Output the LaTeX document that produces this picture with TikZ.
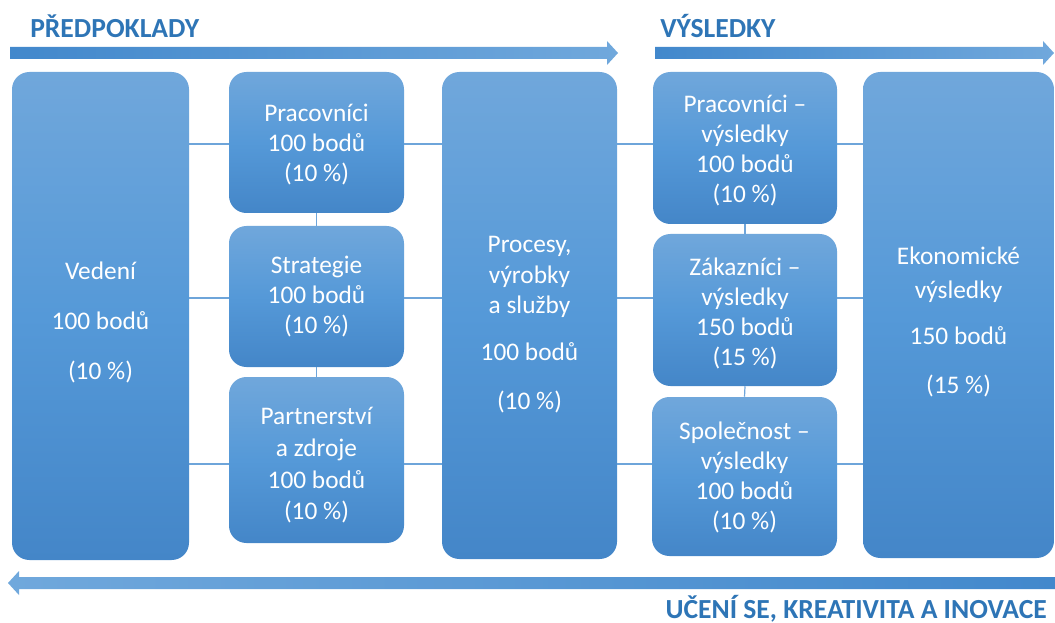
\documentclass[tikz,border=0pt]{standalone}
\usepackage{fontspec}
\setmainfont{Carlito}
\newfontfamily\boxfnt{Carlito}
\newfontfamily\titlefnt{Carlito Bold}
\usetikzlibrary{fit,calc}
\definecolor{boxtop}{RGB}{112,167,219}
\definecolor{boxmid}{RGB}{85,153,216}
\definecolor{boxbot}{RGB}{68,134,200}
\definecolor{linec}{RGB}{110,165,218}
\definecolor{titlec}{RGB}{46,117,182}
\definecolor{arrdark}{RGB}{66,136,204}
\definecolor{arrlight}{RGB}{112,168,220}
\tikzset{
  box/.style={rounded corners=13pt, top color=boxtop, bottom color=boxbot, middle color=boxmid,
    draw=none, inner sep=0pt},
  btext/.style={text=white, align=center, inner sep=0pt,
    font=\boxfnt\fontsize{19}{22.5}\selectfont},
  conn/.style={draw=linec, line width=0.9pt},
  ttl/.style={text=titlec, font=\titlefnt\fontsize{20.7}{24}\selectfont, inner sep=0pt},
}
\begin{document}
\begin{tikzpicture}[x=0.75pt,y=-0.75pt]
\useasboundingbox (0,0) rectangle (1055,623);
% arrows
\shade[left color=arrdark, right color=arrlight]
  (10,47) -- (607,47) -- (607,41) -- (618,53) -- (607,65) -- (607,59) -- (10,59) -- cycle;
\shade[left color=arrdark, right color=arrlight]
  (655,47) -- (1043,47) -- (1043,41) -- (1054,53) -- (1043,65) -- (1043,59) -- (655,59) -- cycle;
\shade[left color=arrlight, right color=arrdark]
  (1055,577) -- (19,577) -- (19,571) -- (8,583) -- (19,595) -- (19,589) -- (1055,589) -- cycle;
% titles
\node[ttl, anchor=base west] (t1) at (30,38) {PŘEDPOKLADY};
\node[ttl, anchor=base west] (t2) at (660,38) {VÝSLEDKY};
\node[ttl, anchor=base east] (t3) at (1047,618) {UČENÍ SE, KREATIVITA A INOVACE};
% boxes
\node[box, fit={(12,72) (189,560)}] (ved) {};
\node[box, fit={(229,72) (404,213)}] (pra) {};
\node[box, fit={(229,226) (404,367)}] (str) {};
\node[box, fit={(229,377) (404,543)}] (par) {};
\node[box, fit={(442,72) (617,559)}] (pro) {};
\node[box, fit={(653,72) (837,224)}] (pv) {};
\node[box, fit={(653,234) (837,386)}] (zv) {};
\node[box, fit={(652,397) (837,556)}] (sv) {};
\node[box, fit={(863,72) (1054,558)}] (eko) {};
% box texts
\node[btext] (vedt) at ($(ved.center)+(0,6.5)$) {Vedení\\[15pt]100 bodů\\[15pt](10 \%)};
\node[btext] (prat) at ($(pra.center)+(0,2.5)$) {Pracovníci\\100 bodů\\(10 \%)};
\node[btext] (strt) at ($(str.center)+(0,0.5)$) {Strategie\\100 bodů\\(10 \%)};
\node[btext] (part) at ($(par.center)+(0,5)$) {Partnerství\\[2pt]a zdroje\\[1pt]100 bodů\\[1pt](10 \%)};
\node[btext] (prot) at ($(pro.center)+(0,9)$) {Procesy,\\[1pt]výrobky\\a služby\\[13pt]100 bodů\\[14pt](10 \%)};
\node[btext] (pvt) at ($(pv.center)+(0,2.5)$) {Pracovníci –\\výsledky\\100 bodů\\(10 \%)};
\node[btext] (zvt) at ($(zv.center)+(0,3)$) {Zákazníci –\\výsledky\\150 bodů\\(15 \%)};
\node[btext] (svt) at ($(sv.center)+(0,1)$) {Společnost –\\výsledky\\100 bodů\\(10 \%)};
\node[btext] (ekot) at ($(eko.center)+(0,7)$) {Ekonomické\\[3pt]výsledky\\[12pt]150 bodů\\[14pt](15 \%)};
% connectors
\draw[conn] (ved.east |- 0,144) -- (pra.west |- 0,144);
\draw[conn] (ved.east |- 0,298) -- (str.west |- 0,298);
\draw[conn] (ved.east |- 0,464) -- (par.west |- 0,464);
\draw[conn] (pra.east |- 0,144) -- (pro.west |- 0,144);
\draw[conn] (str.east |- 0,298) -- (pro.west |- 0,298);
\draw[conn] (par.east |- 0,464) -- (pro.west |- 0,464);
\draw[conn] (pra.south) -- (str.north);
\draw[conn] (str.south) -- (par.north);
\draw[conn] (pro.east |- 0,144) -- (pv.west |- 0,144);
\draw[conn] (pro.east |- 0,298) -- (zv.west |- 0,298);
\draw[conn] (pro.east |- 0,464) -- (sv.west |- 0,464);
\draw[conn] (pv.east |- 0,144) -- (eko.west |- 0,144);
\draw[conn] (zv.east |- 0,298) -- (eko.west |- 0,298);
\draw[conn] (sv.east |- 0,464) -- (eko.west |- 0,464);
\draw[conn] (pv.south) -- (zv.north);
\draw[conn] (zv.south) -- (sv.north);
\end{tikzpicture}
\end{document}
